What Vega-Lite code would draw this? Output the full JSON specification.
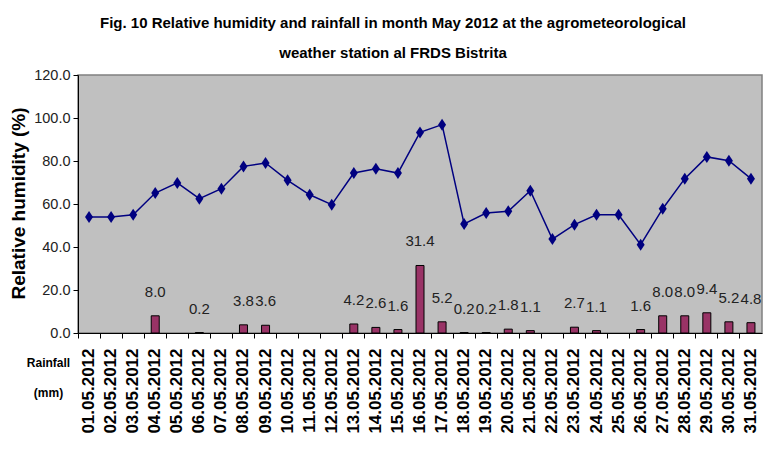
{
  "$schema": "https://vega.github.io/schema/vega-lite/v6.json",
  "width": 684,
  "height": 258,
  "autosize": "none",
  "padding": {"left": 78, "top": 75, "right": 20, "bottom": 137},
  "background": "white",
  "title": {
    "text": ["Fig. 10  Relative humidity and rainfall in month May 2012 at the  agrometeorological", "weather station al FRDS Bistrita"],
    "font": "Liberation Sans, Arial, sans-serif",
    "fontSize": 15,
    "fontWeight": "bold",
    "color": "black",
    "lineHeight": 30,
    "anchor": "middle",
    "frame": "group",
    "dx": -27,
    "offset": 6
  },
  "data": {
    "values": [
      {"day": 1, "date": "01.05.2012", "humidity": 54.0, "rain": null},
      {"day": 2, "date": "02.05.2012", "humidity": 54.0, "rain": null},
      {"day": 3, "date": "03.05.2012", "humidity": 55.0, "rain": null},
      {"day": 4, "date": "04.05.2012", "humidity": 65.1, "rain": 8.0},
      {"day": 5, "date": "05.05.2012", "humidity": 69.8, "rain": null},
      {"day": 6, "date": "06.05.2012", "humidity": 62.5, "rain": 0.2},
      {"day": 7, "date": "07.05.2012", "humidity": 67.1, "rain": null},
      {"day": 8, "date": "08.05.2012", "humidity": 77.5, "rain": 3.8},
      {"day": 9, "date": "09.05.2012", "humidity": 79.1, "rain": 3.6},
      {"day": 10, "date": "10.05.2012", "humidity": 71.0, "rain": null},
      {"day": 11, "date": "11.05.2012", "humidity": 64.3, "rain": null},
      {"day": 12, "date": "12.05.2012", "humidity": 59.7, "rain": null},
      {"day": 13, "date": "13.05.2012", "humidity": 74.4, "rain": 4.2},
      {"day": 14, "date": "14.05.2012", "humidity": 76.4, "rain": 2.6},
      {"day": 15, "date": "15.05.2012", "humidity": 74.4, "rain": 1.6},
      {"day": 16, "date": "16.05.2012", "humidity": 93.3, "rain": 31.4},
      {"day": 17, "date": "17.05.2012", "humidity": 96.9, "rain": 5.2},
      {"day": 18, "date": "18.05.2012", "humidity": 50.7, "rain": 0.2},
      {"day": 19, "date": "19.05.2012", "humidity": 55.8, "rain": 0.2},
      {"day": 20, "date": "20.05.2012", "humidity": 56.6, "rain": 1.8},
      {"day": 21, "date": "21.05.2012", "humidity": 66.2, "rain": 1.1},
      {"day": 22, "date": "22.05.2012", "humidity": 43.7, "rain": null},
      {"day": 23, "date": "23.05.2012", "humidity": 50.4, "rain": 2.7},
      {"day": 24, "date": "24.05.2012", "humidity": 55.0, "rain": 1.1},
      {"day": 25, "date": "25.05.2012", "humidity": 55.0, "rain": null},
      {"day": 26, "date": "26.05.2012", "humidity": 41.1, "rain": 1.6},
      {"day": 27, "date": "27.05.2012", "humidity": 57.8, "rain": 8.0},
      {"day": 28, "date": "28.05.2012", "humidity": 71.8, "rain": 8.0},
      {"day": 29, "date": "29.05.2012", "humidity": 81.9, "rain": 9.4},
      {"day": 30, "date": "30.05.2012", "humidity": 80.1, "rain": 5.2},
      {"day": 31, "date": "31.05.2012", "humidity": 71.8, "rain": 4.8}
    ]
  },
  "encoding": {
    "x": {
      "field": "date",
      "type": "ordinal",
      "sort": {"field": "day"},
      "scale": {"paddingInner": 0, "paddingOuter": 0},
      "axis": {
        "title": ["Rainfall", "(mm)"],
        "titleX": -30,
        "titleY": 24,
        "titleAlign": "center",
        "titleBaseline": "top",
        "titleFont": "Liberation Sans, Arial, sans-serif",
        "titleFontSize": 12,
        "titleFontWeight": "bold",
        "titleColor": "black",
        "titleLineHeight": 30,
        "labelAngle": -90,
        "labelFont": "Liberation Sans, Arial, sans-serif",
        "labelFontWeight": "bold",
        "labelFontSize": 17,
        "labelColor": "black",
        "labelPadding": 10,
        "labelOverlap": false,
        "labelBound": false,
        "bandPosition": 0,
        "tickSize": 5,
        "tickColor": "black",
        "domainColor": "black"
      }
    }
  },
  "layer": [
    {
      "mark": {"type": "bar", "width": 8, "color": "#993366", "stroke": "black", "strokeWidth": 1},
      "encoding": {
        "y": {
          "field": "rain",
          "type": "quantitative",
          "scale": {"domain": [0, 120]},
          "axis": {
            "title": "Relative humidity (%)",
            "values": [0, 20, 40, 60, 80, 100, 120],
            "format": ".1f",
            "grid": false,
            "titleX": -60,
            "titleY": 128,
            "titleAngle": -90,
            "titleAlign": "center",
            "titleBaseline": "middle",
            "titleFont": "Liberation Sans, Arial, sans-serif",
            "titleFontSize": 19,
            "titleFontWeight": "bold",
            "titleColor": "black",
            "labelFont": "Liberation Sans, Arial, sans-serif",
            "labelFontSize": 14.5,
            "labelColor": "#222222",
            "labelPadding": 3,
            "tickSize": 5,
            "tickColor": "black",
            "domainColor": "black"
          }
        }
      }
    },
    {
      "transform": [{"filter": "datum.rain != null"}],
      "mark": {"type": "text", "dy": -24, "baseline": "middle", "font": "Liberation Sans, Arial, sans-serif", "fontSize": 15, "color": "#222222"},
      "encoding": {
        "y": {"field": "rain", "type": "quantitative", "scale": {"domain": [0, 120]}},
        "text": {"field": "rain", "type": "quantitative", "format": ".1f"}
      }
    },
    {
      "mark": {"type": "line", "color": "#000080", "strokeWidth": 1.5},
      "encoding": {
        "y": {"field": "humidity", "type": "quantitative", "scale": {"domain": [0, 120]}}
      }
    },
    {
      "mark": {"type": "point", "shape": "M0,-1.5L1,0L0,1.5L-1,0Z", "size": 64, "filled": true, "opacity": 1, "color": "#000080"},
      "encoding": {
        "y": {"field": "humidity", "type": "quantitative", "scale": {"domain": [0, 120]}}
      }
    }
  ],
  "config": {
    "view": {"fill": "#C0C0C0", "stroke": "#808080", "strokeWidth": 1.5}
  }
}
